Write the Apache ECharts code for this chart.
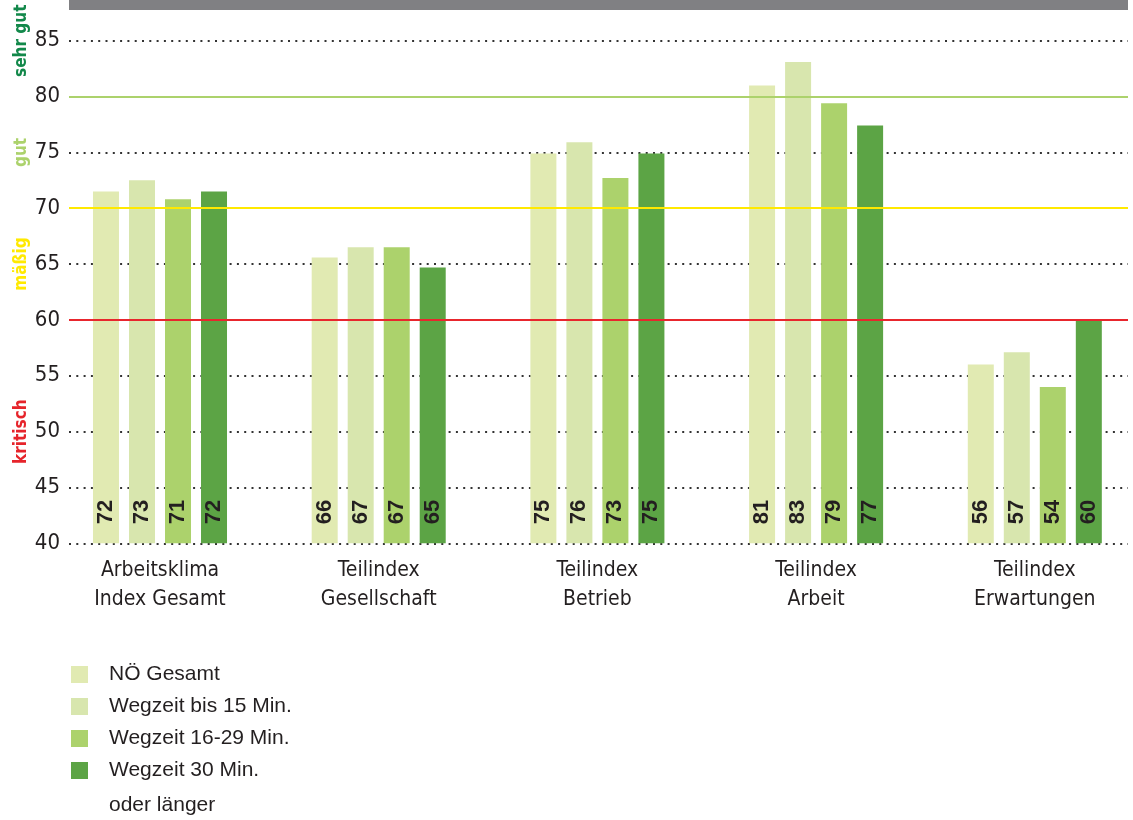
<!DOCTYPE html>
<html><head><meta charset="utf-8">
<script src="https://cdn.jsdelivr.net/npm/echarts@6/dist/echarts.min.js"></script>
<style>html,body{margin:0;padding:0;background:#fff}#c{width:1133px;height:820px}</style>
</head><body><div id="c"></div>
<script>
// ---- data ----
const categories = ['Arbeitsklima\nIndex Gesamt', 'Teilindex\nGesellschaft', 'Teilindex\nBetrieb', 'Teilindex\nArbeit', 'Teilindex\nErwartungen'];
const seriesNames = ['NÖ Gesamt', 'Wegzeit bis 15 Min.', 'Wegzeit 16-29 Min.', 'Wegzeit 30 Min.'];
const noeGesamt = [71.5, 65.6, 74.9, 81.0, 56.0];
const wegBis15 = [72.5, 66.5, 75.9, 83.1, 57.1];
const weg16bis29 = [70.8, 66.5, 72.7, 79.4, 54.0];
const weg30plus = [71.5, 64.7, 74.9, 77.4, 60.0];
const legendExtraLine = 'oder länger';
const thresholds = [60, 70, 80];
const zoneLabels = ['sehr gut', 'gut', 'mäßig', 'kritisch'];
const zoneLabelValues = [85, 75, 65, 50];
const yMin = 40, yMax = 85, yStep = 5;

// ---- styles ----
const barColors = ['#e1eab2', '#d8e6ae', '#acd26c', '#5ca445'];
const thresholdColors = ['#e8262d', '#ffe900', '#acd26c'];
const zoneColors = ['#12884a', '#acd26c', '#ffe900', '#e6242b'];
const narrow = '"DejaVu Sans Condensed", "Liberation Sans Narrow", sans-serif';
const sans = '"Liberation Sans", Arial, sans-serif';
const txt = '#231f20';

const chart = echarts.init(document.getElementById('c'), null, {renderer: 'canvas'});
const values = [noeGesamt, wegBis15, weg16bis29, weg30plus];

const gridTop = 40.7, gridH = 502.6;
const option = {
  animation: false,
  backgroundColor: '#fff',
  grid: [
    {left: 160, top: gridTop, width: 874.8, height: gridH},
    {left: 69, top: gridTop, width: 1059, height: gridH}
  ],
  xAxis: [
    {type: 'category', gridIndex: 0, data: categories, boundaryGap: false,
     axisLine: {show: false}, axisTick: {show: false}, splitLine: {show: false},
     axisLabel: {fontFamily: narrow, fontSize: 21, lineHeight: 29, color: txt, margin: 13, interval: 0}},
    {type: 'category', gridIndex: 1, data: ['-'], show: false}
  ],
  yAxis: [
    {type: 'value', gridIndex: 0, min: yMin, max: yMax, interval: yStep, startValue: yMin, show: false},
    {type: 'value', gridIndex: 1, min: yMin, max: yMax, interval: yStep,
     axisLine: {show: false}, axisTick: {show: false},
     axisLabel: {fontFamily: narrow, fontSize: 22, color: txt, margin: 9},
     splitLine: {show: true, lineStyle: {color: '#333', width: 2, type: [2, 5.3]}}}
  ],
  legend: {
    orient: 'vertical', left: 66, top: 659, itemWidth: 17, itemHeight: 17, itemGap: 11,
    icon: 'rect', selectedMode: false, data: seriesNames,
    textStyle: {fontFamily: sans, fontSize: 21, color: txt, lineHeight: 17, padding: [0, 0, 0, 16]}
  },
  series: [
    {type: 'line', xAxisIndex: 1, yAxisIndex: 1, data: ['-'], z: 1, silent: true,
     markLine: {symbol: 'none', silent: true, label: {show: false},
       data: thresholds.map((v, i) => ({yAxis: v, lineStyle: {color: thresholdColors[i], width: 2, type: 'solid'}}))}}
  ].concat(seriesNames.map((n, i) => ({
    name: n, type: 'bar', xAxisIndex: 0, yAxisIndex: 0, data: values[i], z: 3, clip: false,
    barWidth: 26, barGap: '38.5%',
    itemStyle: {color: barColors[i]},
    label: {show: true, position: 'insideBottom', rotate: 90, align: 'left', verticalAlign: 'middle', distance: 19,
      formatter: p => Math.round(p.value), fontFamily: sans, fontSize: 22, fontWeight: 'bold', color: txt}
  })))
};
chart.setOption(option);

const graphics = [
  {type: 'rect', shape: {x: 69, y: 0, width: 1059, height: 10}, style: {fill: '#808083'}, silent: true},
  {type: 'text', x: 109, y: 805, style: {text: legendExtraLine, fontFamily: sans, fontSize: 21, fill: txt, align: 'left', verticalAlign: 'middle'}}
];
zoneLabels.forEach((t, i) => {
  const y = chart.convertToPixel({yAxisIndex: 1}, zoneLabelValues[i]);
  graphics.push({type: 'text', x: 22, y: y, rotation: Math.PI / 2,
    style: {text: t, fontFamily: narrow, fontSize: 17, fontWeight: 'bold', fill: zoneColors[i], align: 'center', verticalAlign: 'middle'}});
});
chart.setOption({graphic: graphics});
</script></body></html>
